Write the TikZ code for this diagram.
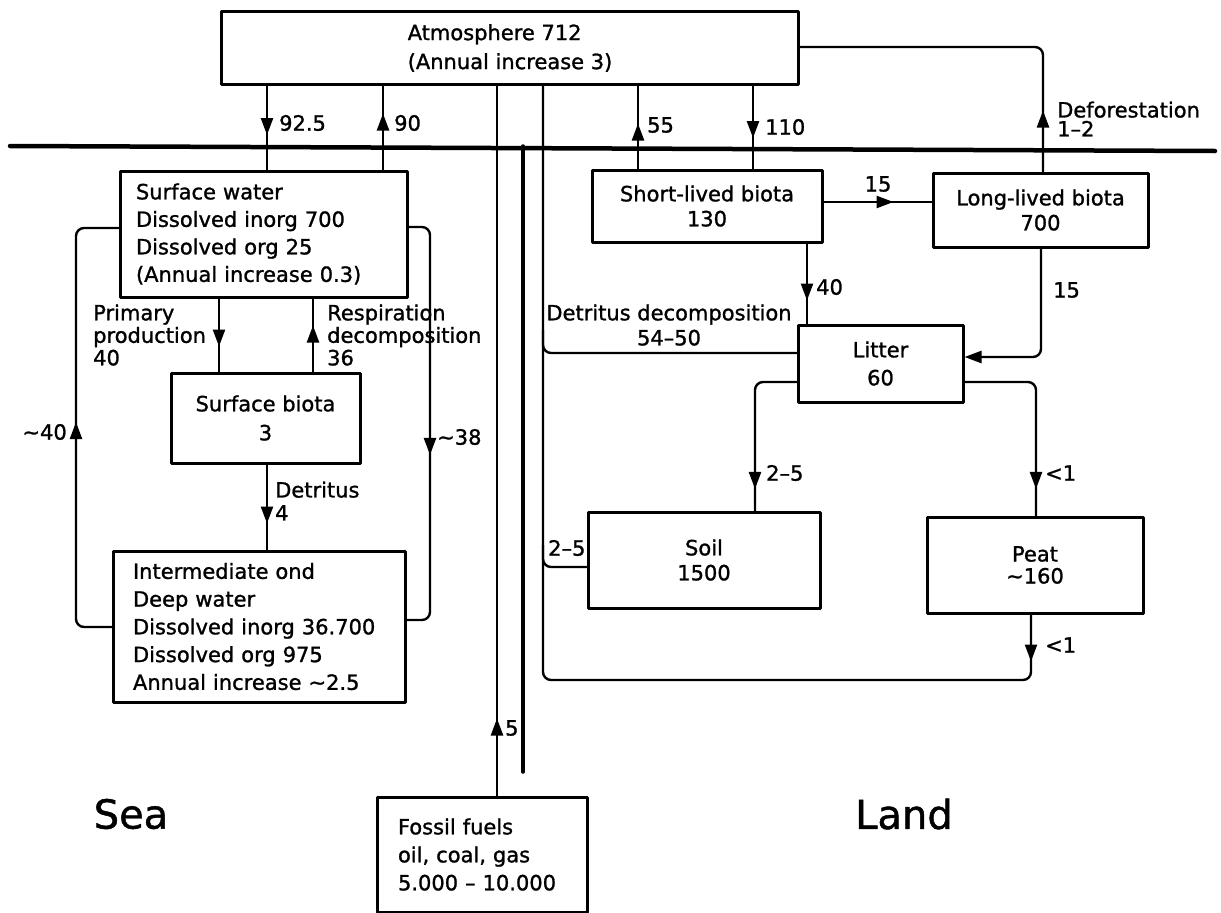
\documentclass[tikz,border=0pt]{standalone}
\usepackage{fontspec}
\newfontfamily\diagfont{DejaVu Sans}[FakeBold=1.2]
\usetikzlibrary{arrows.meta,decorations.markings}

\begin{document}
\begin{tikzpicture}[x=1pt,y=-1pt,line join=round,line cap=round,
		font=\diagfont\fontsize{21}{25}\selectfont,
		box/.style={draw,line width=3pt,inner sep=0pt,align=center},
		lab/.style={inner sep=0pt,align=left},
		link/.style={line width=2.4pt,rounded corners=8pt},
		flow/.style={link,decoration={markings,mark=at position #1 with {\arrow{Triangle[length=17pt,width=12pt]}}},postaction={decorate}}]
		\useasboundingbox (0,0) rectangle (1221,913);
		% ground line
		\draw[line width=4.5pt] (10,146) coordinate (gl) -- (1215,151) coordinate (gr);
		% reservoirs
		\node[box,align=left,minimum width=577pt,minimum height=73pt,font=\diagfont\fontsize{21}{29}\selectfont] (atm) at (510,48) {Atmosphere 712\\(Annual increase 3)};
		\node[box,align=left,text width=255pt,minimum width=287pt,minimum height=126pt,font=\diagfont\fontsize{21}{27.5}\selectfont] (surf) at (263.5,234) {Surface water\\Dissolved inorg 700\\Dissolved org 25\\(Annual increase 0.3)};
		\node[box,minimum width=189pt,minimum height=90pt,font=\diagfont\fontsize{21}{29}\selectfont] (sbio) at (265.5,418) {Surface biota\\3};
		\node[box,align=left,text width=252pt,minimum width=292pt,minimum height=151pt,font=\diagfont\fontsize{21}{27.75}\selectfont] (deep) at (259,626.5) {Intermediate ond\\Deep water\\Dissolved inorg 36.700\\Dissolved org 975\\Annual increase \textasciitilde 2.5};
		\node[box,align=left,text width=168pt,minimum width=210pt,minimum height=115pt,font=\diagfont\fontsize{21}{28}\selectfont] (fossil) at (482,854.5) {Fossil fuels\\oil, coal, gas\\5.000 – 10.000};
		\node[box,minimum width=230pt,minimum height=72pt] (slb) at (707,206) {Short-lived biota\\130};
		\node[box,minimum width=215pt,minimum height=74pt] (llb) at (1040.5,210) {Long-lived biota\\700};
		\node[box,minimum width=165pt,minimum height=77pt,font=\diagfont\fontsize{21}{28}\selectfont] (litter) at (880.5,363.5) {Litter\\60};
		\node[box,minimum width=232pt,minimum height=96pt] (soil) at (704,560) {Soil\\1500};
		\node[box,minimum width=216pt,minimum height=96pt,font=\diagfont\fontsize{21}{22}\selectfont] (peat) at (1035,565) {Peat\\\textasciitilde 160};
		\node[font=\diagfont\fontsize{40}{40}\selectfont] (sea) at (131,814) {Sea};
		\node[font=\diagfont\fontsize{40}{40}\selectfont] (land) at (904,814) {Land};
		% sea fluxes
		\draw[flow=49pt] (267,0 |- atm.south) -- (267,0 |- surf.north);
		\draw[flow=56pt] (383,0 |- surf.north) -- (383,0 |- atm.south);
		\draw[flow=237pt] (deep.west |- 0,627) -- (76,627) -- (76,228) -- (surf.west |- 0,228);
		\draw[flow=246pt] (surf.east |- 0,227) -- (430,227) -- (430,620) -- (deep.east |- 0,620);
		\draw[flow=48pt] (219,0 |- surf.south) -- (219,0 |- sbio.north);
		\draw[flow=46pt] (313,0 |- sbio.north) -- (313,0 |- surf.south);
		\draw[flow=59pt] (267,0 |- sbio.south) -- (267,0 |- deep.north);
		\node[lab,anchor=west] (l925) at (279,123) {92.5};
		\node[lab,anchor=west] (l90) at (394,123) {90};
		\node[lab,anchor=east] (l40) at (67,432) {\textasciitilde 40};
		\node[lab,anchor=west] (l38) at (437,437) {\textasciitilde 38};
		\node[lab,anchor=west,font=\diagfont\fontsize{21}{22.5}\selectfont] (lprim) at (93,335) {Primary\\production\\40};
		\node[lab,anchor=west,font=\diagfont\fontsize{21}{22.5}\selectfont] (lresp) at (327,335) {Respiration\\decomposition\\36};
		\node[lab,anchor=west,font=\diagfont\fontsize{21}{23}\selectfont] (ldet) at (275,501) {Detritus\\4};
		% fossil fuels
		\draw[flow=77pt] (497,0 |- fossil.north) -- (497,0 |- atm.south);
		\draw[line width=3.5pt] (523,0 |- gl) -- (523,772) coordinate (fend);
		\node[lab,anchor=west] (l5) at (505,728) {5};
		% land fluxes
		\draw[flow=45pt] (638,0 |- slb.north) -- (638,0 |- atm.south);
		\draw[flow=52pt] (753,0 |- atm.south) -- (753,0 |- slb.north);
		\draw[flow=61pt] (1043,0 |- llb.north) -- (1043,47) -- (atm.east |- 0,47);
		\draw[flow=70pt] (slb.east |- 0,202) -- (llb.west |- 0,202);
		\draw[flow=57pt] (807,0 |- slb.south) -- (807,0 |- litter.north);
		\draw[link,-{Triangle[length=17pt,width=12pt]}] (1041,0 |- llb.south) -- (1041,357) -- (litter.east |- 0,357);
		\draw[flow=145pt] (litter.west |- 0,382) -- (755,382) -- (755,0 |- soil.north);
		\draw[flow=175pt] (litter.east |- 0,382) -- (1036,382) -- (1036,0 |- peat.north);
		\draw[flow=47pt] (1031,0 |- peat.south) -- (1031,680) -- (543,680) -- (543,0 |- atm.south);
		\draw[link] (litter.west |- 0,353) -- (543,353) -- (543,330);
		\draw[link] (soil.west |- 0,567) -- (543,567) -- (543,545);
		\node[lab,anchor=west] (l55) at (647,125) {55};
		\node[lab,anchor=west] (l110) at (765,127) {110};
		\node[lab,anchor=west,font=\diagfont\fontsize{21}{19}\selectfont] (ldefo) at (1057,119) {Deforestation\\1–2};
		\node[lab] (l15a) at (878,184) {15};
		\node[lab,anchor=west] (l15b) at (1053,290) {15};
		\node[lab,anchor=west] (l40b) at (816,287) {40};
		\node[lab,align=center] (ldd) at (669,325) {Detritus decomposition\\54–50};
		\node[lab,anchor=west] (l25a) at (766,473) {2–5};
		\node[lab,anchor=west] (l25b) at (548,548) {2–5};
		\node[lab,anchor=west] (l1a) at (1045,473) {<1};
		\node[lab,anchor=west] (l1b) at (1045,645) {<1};
	\end{tikzpicture}
\end{document}
